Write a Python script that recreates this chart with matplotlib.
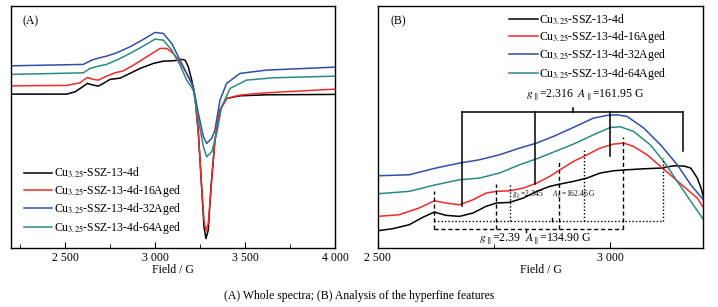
import numpy as np
import matplotlib
matplotlib.use("Agg")
import matplotlib.pyplot as plt
from matplotlib.ticker import MultipleLocator, FuncFormatter

plt.rcParams['font.family'] = ['Liberation Serif', 'DejaVu Serif']
plt.rcParams['mathtext.fontset'] = 'stix'

labels = ['Cu$_{3.25}$-SSZ-13-4d', 'Cu$_{3.25}$-SSZ-13-4d-16Aged',
          'Cu$_{3.25}$-SSZ-13-4d-32Aged', 'Cu$_{3.25}$-SSZ-13-4d-64Aged']
colors = ['#000000', '#f02a2a', '#2f4fa8', '#2b8a82']

# (A) whole spectra, field in G, intensity in arbitrary units
fa_black = [2200, 2510, 2556, 2593, 2624, 2657, 2685, 2713, 2750, 2806, 2861, 2917, 2991, 3046,
            3102, 3148, 3167, 3185, 3204, 3222, 3241, 3259, 3272, 3283, 3296, 3311, 3333, 3361,
            3398, 3472, 3620, 4000]
ia_black = [154, 154, 156.3, 160.7, 164.7, 163, 162, 164.7, 168.7, 170, 174.7, 179.7, 184.7, 187,
            187.3, 188.7, 188, 181.3, 168, 151.3, 114.7, 61.3, 21.3, 9.5, 18, 61.3, 108, 138,
            149.7, 152.3, 153.3, 153.7]
fa_red = [2200, 2509, 2583, 2624, 2657, 2685, 2731, 2778, 2824, 2880, 2954, 3028, 3065, 3102,
          3139, 3176, 3204, 3222, 3241, 3259, 3272, 3283, 3296, 3315, 3333, 3361, 3398, 3472,
          3620, 4000]
ia_red = [162.3, 162.7, 165.3, 170.7, 168.7, 168, 172, 175.3, 177.3, 183, 191.3, 199.7, 199.7,
          194.7, 186.3, 174.7, 164.7, 151.3, 114.7, 61.3, 28, 17, 24.7, 68, 108, 138, 149.7,
          153, 155.3, 159]
fa_blue = [2200, 2602, 2648, 2685, 2731, 2787, 2861, 2935, 3000, 3046, 3093, 3139, 3176, 3213,
           3241, 3269, 3287, 3315, 3333, 3361, 3398, 3472, 3620, 4000]
ia_blue = [182.3, 183.7, 188, 190, 192, 195.3, 201.3, 208.7, 215.7, 214.7, 204.7, 188, 174.7,
           161.3, 134.7, 111.3, 104.7, 109.7, 118, 148, 164.7, 174.7, 178, 181]
fa_teal = [2200, 2602, 2639, 2685, 2731, 2787, 2861, 2935, 3000, 3046, 3093, 3139, 3176, 3213,
           3241, 3269, 3287, 3315, 3343, 3370, 3417, 3509, 3657, 4000]
ia_teal = [173.7, 175.3, 179.7, 182, 183.7, 188, 194.7, 202, 209, 208, 198, 183, 168, 158, 128,
           101.3, 91.3, 96.3, 114.7, 141.3, 159.7, 168, 170.3, 172]

# (B) hyperfine region
fb_black = [2500, 2532, 2568, 2597, 2622, 2647, 2676, 2705, 2733, 2755, 2784, 2813, 2842, 2870,
            2892, 2921, 2950, 2978, 3007, 3036, 3072, 3108, 3137, 3159, 3173, 3187, 3195, 3203]
ib_black = [17.3, 19.3, 23.3, 30.7, 36, 32.7, 31.7, 35, 41.7, 45, 45.7, 50, 56.7, 61.7, 64,
            66.7, 70, 75, 77.3, 78.3, 79.3, 80, 82.3, 82, 80, 70, 60, 46.7]
fb_red = [2500, 2546, 2589, 2622, 2647, 2676, 2705, 2733, 2755, 2784, 2813, 2842, 2870, 2892,
          2921, 2950, 2978, 3007, 3029, 3050, 3079, 3108, 3137, 3166, 3187, 3203]
ib_red = [31.7, 33.3, 40, 47.3, 45, 43.3, 48.3, 55, 56.7, 57.3, 60, 65, 71.7, 78.3, 86.7, 93.3,
          100, 104, 105, 101.7, 93.3, 81.7, 70, 58.3, 50, 38.3]
fb_blue = [2500, 2568, 2625, 2676, 2719, 2762, 2805, 2842, 2878, 2921, 2964, 2993, 3014, 3036,
           3072, 3108, 3144, 3173, 3203]
ib_blue = [72.3, 73.3, 80, 85, 88.3, 93.3, 100, 105, 111.7, 120.7, 130, 132.7, 133.3, 131.7, 120,
           103.3, 83.3, 63.3, 46.7]
fb_teal = [2500, 2568, 2625, 2676, 2719, 2762, 2805, 2842, 2878, 2921, 2964, 3000, 3022, 3050,
           3086, 3115, 3144, 3173, 3203]
ib_teal = [54.3, 56.7, 63.3, 68.3, 70, 75, 83.3, 89.3, 96, 104, 113.3, 120.7, 121.3, 116.7,
           103.3, 86.7, 66.7, 46.7, 26.7]

# hyperfine line positions (G) and the curve level each marker reaches
hf_solid = [2682, 2839, 3000, 3157]
hf_solid_top = [42.3, 64, 92.3, 96.7]
hf_dash = [2622, 2755, 2890, 3027]
hf_dash_top = [56.7, 64, 87.3, 110.7]
hf_dot = [2784, 2944, 3114]
hf_dot_top = [64, 99.3, 90]

fig = plt.figure(figsize=(7.18, 3.07), dpi=100)
axA = fig.add_axes([0.0153, 0.192, 0.4513, 0.788])
axB = fig.add_axes([0.5258, 0.192, 0.4538, 0.788])

for f, i, c, l in zip([fa_black, fa_red, fa_blue, fa_teal], [ia_black, ia_red, ia_blue, ia_teal],
                      colors, labels):
    axA.plot(f, i, color=c, lw=1.1, label=l)
for f, i, c, l in zip([fb_black, fb_red, fb_blue, fb_teal], [ib_black, ib_red, ib_blue, ib_teal],
                      colors, labels):
    axB.plot(f, i, color=c, lw=1.1, label=l)

fmt = FuncFormatter(lambda v, p: f"{int(v):,}".replace(",", " "))
for ax, xl in [(axA, (2200, 4000)), (axB, (2500, 3200))]:
    ax.set_xlim(*xl)
    ax.set_ylim(0, 242)
    ax.set_yticks([])
    ax.xaxis.set_major_locator(MultipleLocator(500))
    ax.xaxis.set_minor_locator(MultipleLocator(250))
    ax.xaxis.set_major_formatter(fmt)
    ax.tick_params(axis='x', which='both', direction='in', labelsize=8.5, pad=3)
    ax.tick_params(axis='x', which='major', length=4)
    ax.tick_params(axis='x', which='minor', length=3)
    ax.set_xlabel('Field / G', fontsize=8.5, labelpad=0)
    for s in ax.spines.values():
        s.set_linewidth(1.0)

axA.text(0.035, 0.925, '(A)', transform=axA.transAxes, fontsize=8.5)
axB.text(0.04, 0.925, '(B)', transform=axB.transAxes, fontsize=8.5)

axA.legend(loc='lower left', bbox_to_anchor=(0.025, 0.03), frameon=False, fontsize=8.5,
           handlelength=2.4, handletextpad=0.15, labelspacing=0.22, borderaxespad=0)
axB.legend(loc='upper left', bbox_to_anchor=(0.39, 0.995), frameon=False, fontsize=8.5,
           handlelength=2.4, handletextpad=0.15, labelspacing=0.2, borderaxespad=0)

# solid bracket: g = 2.316
y_s = 135.7
axB.plot([hf_solid[0], hf_solid[-1]], [y_s, y_s], color='k', lw=1.1)
axB.plot([2921, 2921], [y_s, 140], color='k', lw=1.1)
for x, t in zip(hf_solid, hf_solid_top):
    axB.plot([x, x], [t, y_s], color='k', lw=1.1)
axB.text(2946, 150, r'$g_{\parallel}$=2.316  $A_{\parallel}$=161.95 G', fontsize=8.5, ha='center')

# dashed bracket: g = 2.39
y_d = 19.3
axB.plot([hf_dash[0], hf_dash[-1]], [y_d, y_d], color='k', lw=1.0, ls=(0, (3, 2)))
axB.plot([2820, 2820], [16, y_d], color='k', lw=1.0)
for x, t in zip(hf_dash, hf_dash_top):
    axB.plot([x, x], [y_d, t], color='k', lw=1.0, ls=(0, (3, 2)))
axB.text(2838, 6, r'$g_{\parallel}$=2.39  $A_{\parallel}$=134.90 G', fontsize=8.5, ha='center')

# dotted bracket: g = 2.345
y_o = 26.7
axB.plot([hf_dash[0], hf_dot[-1]], [y_o, y_o], color='k', lw=1.0, ls=(0, (1, 1.5)))
axB.plot([2874, 2874], [y_o, 30], color='k', lw=1.0)
for x, t in zip(hf_dot, hf_dot_top):
    axB.plot([x, x], [y_o, t], color='k', lw=1.0, ls=(0, (1, 1.5)))
axB.text(2788, 52, r'$g_{\parallel}$=2.345', fontsize=5.5)
axB.text(2874, 52, r'$A_{\parallel}$=162.46 G', fontsize=5.5)

fig.text(0.5, 0.025, '(A) Whole spectra; (B) Analysis of the hyperfine features',
         ha='center', fontsize=8.5)

fig.savefig('out.png', dpi=100)
